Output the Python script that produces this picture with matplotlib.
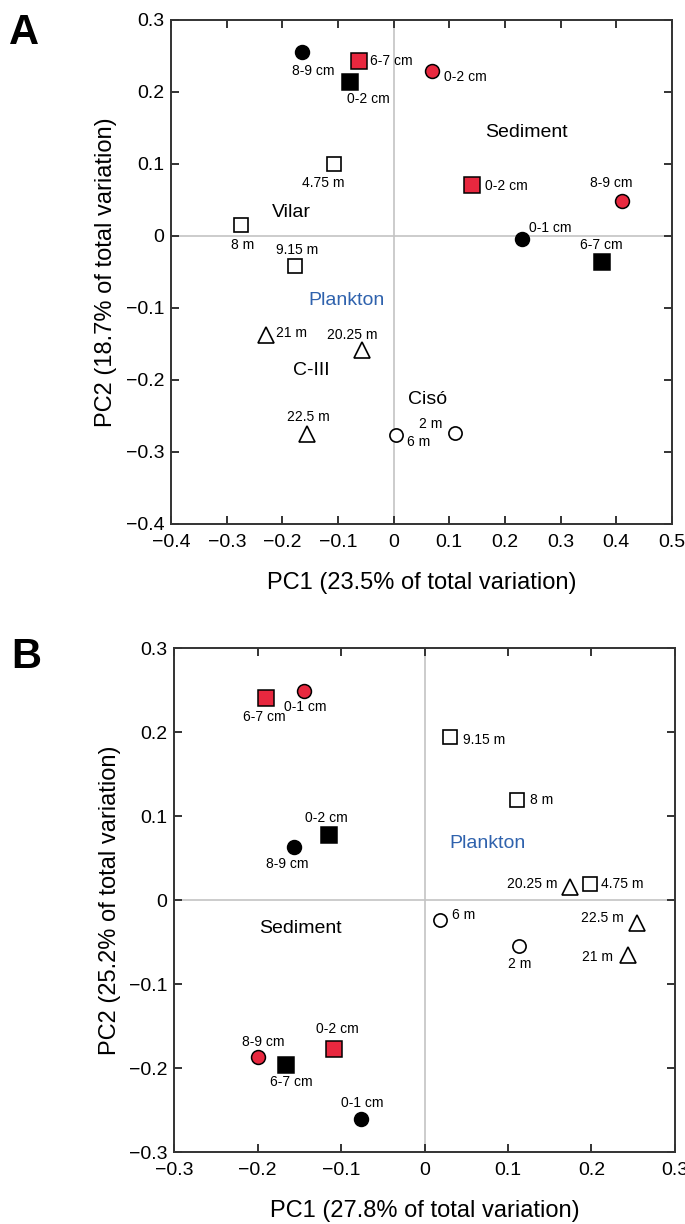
import matplotlib
matplotlib.use("Agg")
import matplotlib.pyplot as plt
from matplotlib.ticker import FuncFormatter, MultipleLocator

plt.rcParams['font.family'] = ['Liberation Sans', 'DejaVu Sans']

RED = '#e8283f'
BLUE = '#2f62ad'

# marker kinds: sediment (filled black / red) and plankton (open)
# panel A
a_pc1 = [-0.164, -0.063, -0.079, 0.069, -0.107, 0.140, 0.411, 0.230,
         0.374, -0.275, -0.177, -0.230, -0.057, -0.156, 0.005, 0.110]
a_pc2 = [0.256, 0.243, 0.214, 0.229, 0.100, 0.0715, 0.049, -0.004,
         -0.036, 0.015, -0.042, -0.138, -0.159, -0.275, -0.276, -0.273]
a_labels = ['8-9 cm', '6-7 cm', '0-2 cm', '0-2 cm', '4.75 m', '0-2 cm',
            '8-9 cm', '0-1 cm', '6-7 cm', '8 m', '9.15 m', '21 m',
            '20.25 m', '22.5 m', '6 m', '2 m']
a_kinds = ['circle_black', 'square_red', 'square_black', 'circle_red',
           'square_open', 'square_red', 'circle_red', 'circle_black',
           'square_black', 'square_open', 'square_open', 'triangle_open',
           'triangle_open', 'triangle_open', 'circle_open', 'circle_open']

# panel B
b_pc1 = [-0.190, -0.145, 0.031, 0.111, -0.114, -0.157, 0.174, 0.198,
         0.018, 0.255, 0.113, 0.244, -0.200, -0.166, -0.109, -0.076]
b_pc2 = [0.241, 0.249, 0.194, 0.120, 0.078, 0.064, 0.016, 0.020,
         -0.023, -0.027, -0.054, -0.065, -0.187, -0.196, -0.177, -0.260]
b_labels = ['6-7 cm', '0-1 cm', '9.15 m', '8 m', '0-2 cm', '8-9 cm',
            '20.25 m', '4.75 m', '6 m', '22.5 m', '2 m', '21 m',
            '8-9 cm', '6-7 cm', '0-2 cm', '0-1 cm']
b_kinds = ['square_red', 'circle_red', 'square_open', 'square_open',
           'square_black', 'circle_black', 'triangle_open', 'square_open',
           'circle_open', 'triangle_open', 'circle_open', 'triangle_open',
           'circle_red', 'square_black', 'square_red', 'circle_black']

STYLES = {
    'circle_black': dict(marker='o', ms=10, mfc='black', mec='black', mew=1.1),
    'circle_red': dict(marker='o', ms=10, mfc=RED, mec='black', mew=1.1),
    'circle_open': dict(marker='o', ms=9.5, mfc='white', mec='black', mew=1.2),
    'square_black': dict(marker='s', ms=11, mfc='black', mec='black', mew=1.1),
    'square_red': dict(marker='s', ms=11, mfc=RED, mec='black', mew=1.1),
    'square_open': dict(marker='s', ms=10.5, mfc='white', mec='black', mew=1.2),
    'triangle_open': dict(marker='^', ms=12, mfc='white', mec='black', mew=1.2),
}

# label placement (offset in points, horizontal alignment)
A_OFFSETS = [(7.9, -14, 'center'), (8.2, 0, 'left'), (13.2, -12, 'center'),
             (8.6, -4.5, 'left'), (-7.9, -13.5, 'center'), (10, -1, 'left'),
             (-7.9, 13, 'center'), (20.5, 7.6, 'center'), (0, 12.5, 'center'),
             (1.3, -14, 'center'), (1.3, 11.5, 'center'), (7.2, 2, 'left'),
             (-7.2, 11.3, 'center'), (1.3, 12, 'center'), (16, -5.3, 'center'),
             (-17.4, 6.3, 'center')]
B_OFFSETS = [(-1.3, -14, 'center'), (0.9, -11.5, 'center'), (8.8, -1.7, 'left'),
             (9.2, -0.5, 'left'), (-2.1, 12.2, 'center'), (-4.7, -12.5, 'center'),
             (-8.6, 2.4, 'right'), (8.3, 0, 'left'), (8.9, 3.6, 'left'),
             (-9.5, 3.3, 'right'), (0.7, -13.2, 'center'), (-11, -1.2, 'right'),
             (3.8, 10.8, 'center'), (3.8, -12.5, 'center'), (2.9, 14.2, 'center'),
             (0.9, 11.2, 'center')]


def fmt(v, pos):
    s = f"{round(v, 2):g}"
    return s.replace('-', '\u2212')


def style_axes(ax, xlim, ylim, xlabel, ylabel):
    ax.set_xlim(*xlim)
    ax.set_ylim(*ylim)
    ax.axvline(0, color='#c4c4c4', lw=1.2, zorder=0)
    ax.axhline(0, color='#c4c4c4', lw=1.2, zorder=0)
    ax.xaxis.set_major_locator(MultipleLocator(0.1))
    ax.yaxis.set_major_locator(MultipleLocator(0.1))
    ax.xaxis.set_major_formatter(FuncFormatter(fmt))
    ax.yaxis.set_major_formatter(FuncFormatter(fmt))
    ax.tick_params(direction='in', length=6, width=1.4, top=True, right=True,
                   labelsize=14, color='#333333')
    ax.tick_params(axis='x', pad=7)
    ax.tick_params(axis='y', pad=5)
    for sp in ax.spines.values():
        sp.set_linewidth(1.4)
        sp.set_color('#333333')
    ax.set_xlabel(xlabel, fontsize=17, labelpad=15)
    ax.set_ylabel(ylabel, fontsize=17, labelpad=6)


def draw_points(ax, xs, ys, labels, kinds, offsets):
    for x, y, lab, kind, (dx, dy, ha) in zip(xs, ys, labels, kinds, offsets):
        ax.plot([x], [y], ls='none', zorder=3, **STYLES[kind])
        ax.annotate(lab, (x, y), xytext=(dx, dy), textcoords='offset points',
                    ha=ha, va='center', fontsize=10)


def main():
    fig = plt.figure(figsize=(6.85, 12.24), dpi=100)
    W, H = 685.0, 1224.0

    ax_a = fig.add_axes([171.2 / W, (H - 524) / H, 500.6 / W, 504 / H])
    style_axes(ax_a, (-0.4, 0.5), (-0.4, 0.3),
               'PC1 (23.5% of total variation)',
               'PC2 (18.7% of total variation)')
    draw_points(ax_a, a_pc1, a_pc2, a_labels, a_kinds, A_OFFSETS)
    ax_a.text(0.239, 0.144, 'Sediment', fontsize=14, ha='center', va='center')
    ax_a.text(-0.183, 0.033, 'Vilar', fontsize=14, ha='center', va='center')
    ax_a.text(-0.0845, -0.090, 'Plankton', fontsize=14, color=BLUE,
              ha='center', va='center')
    ax_a.text(-0.148, -0.187, 'C-III', fontsize=14, ha='center', va='center')
    ax_a.text(0.0616, -0.227, 'Cisó', fontsize=14, ha='center', va='center')

    ax_b = fig.add_axes([174.3 / W, (H - 1152.3) / H, 500.6 / W, 504 / H])
    style_axes(ax_b, (-0.3, 0.3), (-0.3, 0.3),
               'PC1 (27.8% of total variation)',
               'PC2 (25.2% of total variation)')
    draw_points(ax_b, b_pc1, b_pc2, b_labels, b_kinds, B_OFFSETS)
    ax_b.text(0.0758, 0.0675, 'Plankton', fontsize=14, color=BLUE,
              ha='center', va='center')
    ax_b.text(-0.149, -0.033, 'Sediment', fontsize=14, ha='center', va='center')

    fig.text(9 / W, 1 - 13 / H, 'A', fontsize=30, fontweight='bold', va='top')
    fig.text(11 / W, 1 - 637 / H, 'B', fontsize=30, fontweight='bold', va='top')

    fig.savefig('out.png', dpi=100)


if __name__ == '__main__':
    main()
